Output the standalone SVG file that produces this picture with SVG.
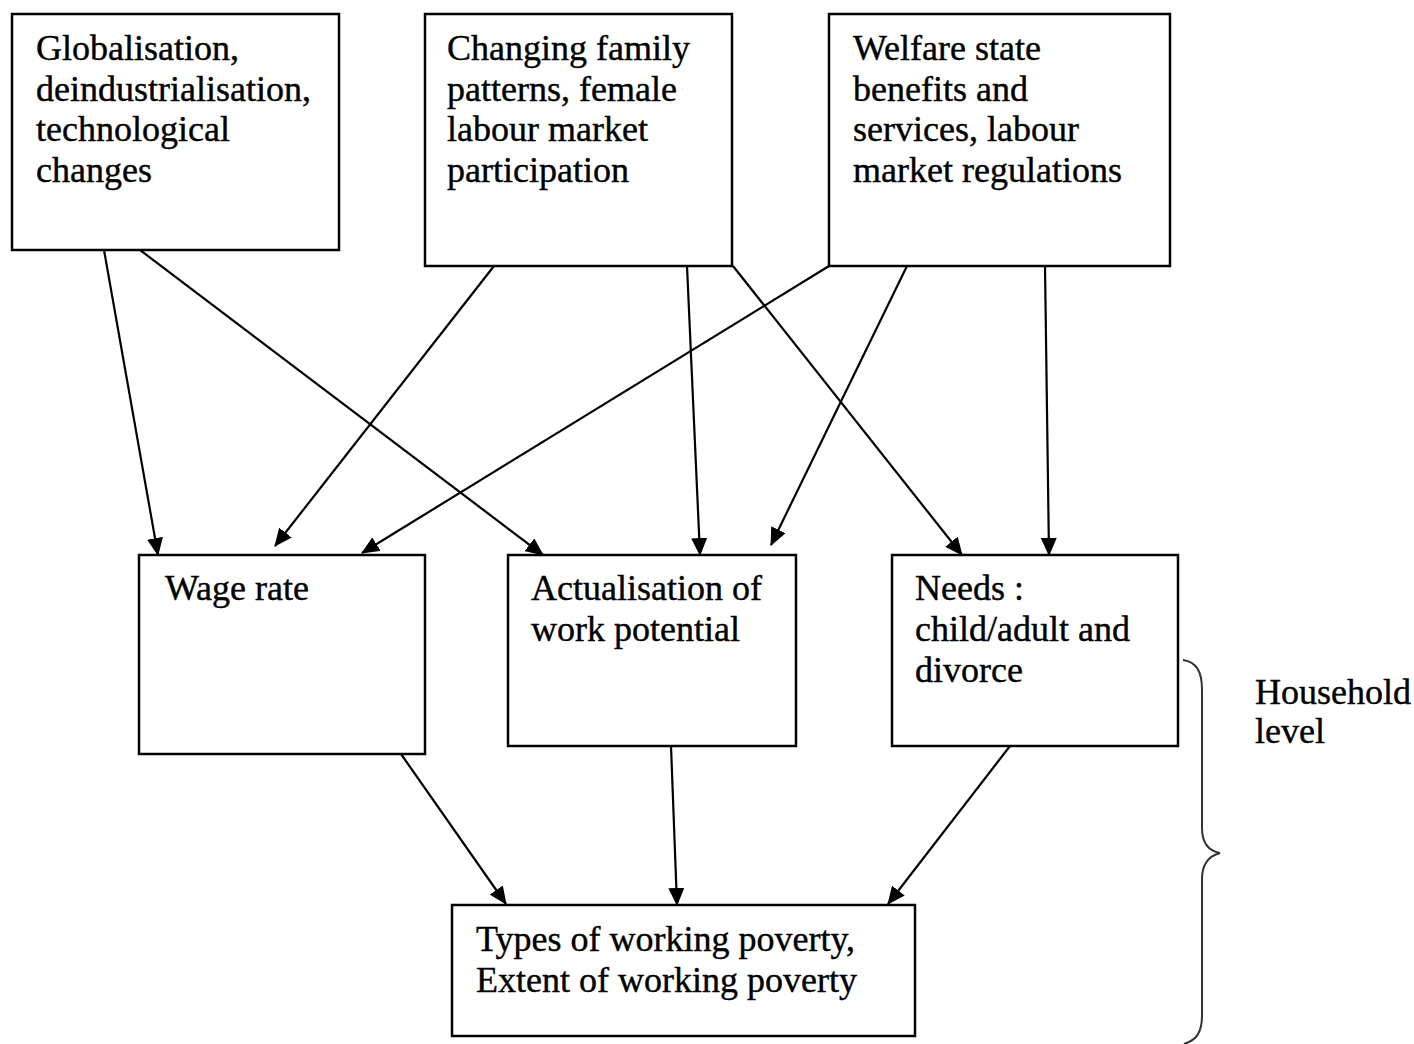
<svg xmlns="http://www.w3.org/2000/svg" width="1414" height="1044" viewBox="0 0 1414 1044">
<defs>
<style>
.box{fill:#fff;stroke:#000;stroke-width:2.5}
.t{font-family:"Liberation Serif","Times New Roman",serif;font-size:36px;fill:#000;stroke:#000;stroke-width:0.4}
.c{fill:none;stroke:#000;stroke-width:2.2}
.brace{fill:none;stroke:#333;stroke-width:2}
</style>
<marker id="ah" markerUnits="userSpaceOnUse" markerWidth="18" markerHeight="16" refX="17" refY="8" orient="auto">
<path d="M0,0 L18,8 L0,16 Z" fill="#000"/>
</marker>
</defs>
<rect width="1414" height="1044" fill="#fff"/>
<g id="connectors">
<line class="c" x1="104" y1="250" x2="158" y2="555" marker-end="url(#ah)"/>
<line class="c" x1="140" y1="250" x2="543" y2="555" marker-end="url(#ah)"/>
<line class="c" x1="494" y1="266" x2="275" y2="546" marker-end="url(#ah)"/>
<line class="c" x1="829" y1="266" x2="362" y2="553" marker-end="url(#ah)"/>
<line class="c" x1="687" y1="266" x2="700" y2="555" marker-end="url(#ah)"/>
<line class="c" x1="907" y1="266" x2="771" y2="545" marker-end="url(#ah)"/>
<line class="c" x1="733" y1="266" x2="962" y2="555" marker-end="url(#ah)"/>
<line class="c" x1="1045" y1="266" x2="1049" y2="555" marker-end="url(#ah)"/>
<line class="c" x1="401" y1="754" x2="506" y2="904" marker-end="url(#ah)"/>
<line class="c" x1="671" y1="746" x2="677" y2="905" marker-end="url(#ah)"/>
<line class="c" x1="1010" y1="746" x2="888" y2="904" marker-end="url(#ah)"/>
</g>
<g id="n1">
<rect class="box" x="12" y="14" width="327" height="236"/>
<text class="t" x="36" y="60">Globalisation,</text>
<text class="t" x="36" y="101">deindustrialisation,</text>
<text class="t" x="36" y="141">technological</text>
<text class="t" x="36" y="182">changes</text>
</g>
<g id="n2">
<rect class="box" x="425" y="14" width="307" height="252"/>
<text class="t" x="447" y="60">Changing family</text>
<text class="t" x="447" y="101">patterns, female</text>
<text class="t" x="447" y="141">labour market</text>
<text class="t" x="447" y="182">participation</text>
</g>
<g id="n3">
<rect class="box" x="829" y="14" width="341" height="252"/>
<text class="t" x="853" y="60">Welfare state</text>
<text class="t" x="853" y="101">benefits and</text>
<text class="t" x="853" y="141">services, labour</text>
<text class="t" x="853" y="182">market regulations</text>
</g>
<g id="n4">
<rect class="box" x="139" y="555" width="286" height="199"/>
<text class="t" x="165" y="600">Wage rate</text>
</g>
<g id="n5">
<rect class="box" x="508" y="555" width="288" height="191"/>
<text class="t" x="531" y="600">Actualisation of</text>
<text class="t" x="531" y="641">work potential</text>
</g>
<g id="n6">
<rect class="box" x="892" y="555" width="286" height="191"/>
<text class="t" x="915" y="600">Needs :</text>
<text class="t" x="915" y="641">child/adult and</text>
<text class="t" x="915" y="682">divorce</text>
</g>
<g id="n7">
<rect class="box" x="452" y="905" width="463" height="131"/>
<text class="t" x="476" y="951">Types of working poverty,</text>
<text class="t" x="476" y="992">Extent of working poverty</text>
</g>
<g id="household">
<path class="brace" d="M1183,660 C1197,662 1202,672 1202,690 L1202,828 C1202,843 1209,851 1220,853 C1209,856 1202,864 1202,879 L1202,1015 C1202,1032 1197,1040 1184,1044"/>
<text class="t" x="1255" y="704">Household</text>
<text class="t" x="1255" y="743">level</text>
</g>
</svg>
